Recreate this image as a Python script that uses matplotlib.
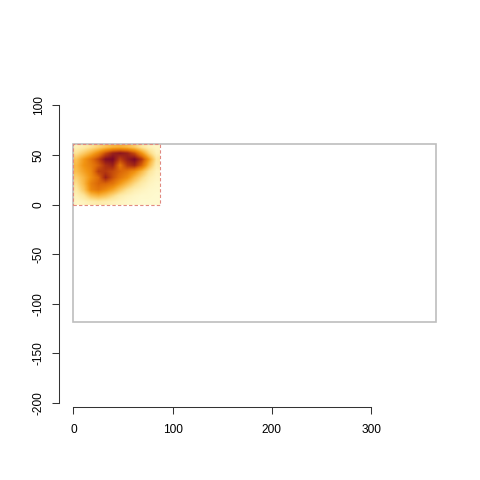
import numpy as np
import matplotlib.pyplot as plt
from matplotlib.colors import LinearSegmentedColormap
from matplotlib.patches import Rectangle

# density grid (rows top -> bottom, y 61 -> 0)
density = [
    [0.08, 0.12, 0.18, 0.25, 0.32, 0.38, 0.40, 0.36, 0.28, 0.16, 0.08, 0.04],
    [0.18, 0.28, 0.40, 0.55, 0.75, 0.90, 0.95, 0.90, 0.75, 0.50, 0.24, 0.08],
    [0.32, 0.48, 0.62, 0.78, 0.97, 1.00, 0.80, 0.92, 1.00, 0.82, 0.48, 0.16],
    [0.36, 0.50, 0.58, 0.70, 0.85, 0.90, 0.62, 0.82, 0.88, 0.68, 0.36, 0.12],
    [0.34, 0.45, 0.55, 0.80, 0.82, 0.76, 0.68, 0.62, 0.52, 0.36, 0.18, 0.07],
    [0.26, 0.38, 0.52, 0.66, 0.90, 0.74, 0.62, 0.52, 0.36, 0.22, 0.10, 0.05],
    [0.20, 0.36, 0.58, 0.68, 0.68, 0.62, 0.48, 0.35, 0.22, 0.12, 0.06, 0.03],
    [0.14, 0.30, 0.55, 0.62, 0.54, 0.44, 0.30, 0.18, 0.10, 0.06, 0.03, 0.02],
    [0.08, 0.16, 0.32, 0.38, 0.32, 0.22, 0.12, 0.07, 0.04, 0.02, 0.02, 0.01],
    [0.04, 0.06, 0.10, 0.12, 0.10, 0.07, 0.05, 0.03, 0.02, 0.01, 0.01, 0.01],
]
img_extent = [0, 87, 0, 61]       # image bounds in data units
frame_x = [0, 365]                # grey frame
frame_y = [-118, 61]
xticks = [0, 100, 200, 300]
yticks = [-200, -150, -100, -50, 0, 50, 100]

cmap = LinearSegmentedColormap.from_list(
    "heat", ["#FFFBD2", "#FDE59A", "#FBBF50", "#F29512", "#DD6A08", "#B2350F", "#7A0828"])

plt.rcParams['font.family'] = ['Liberation Sans', 'DejaVu Sans']
fig = plt.figure(figsize=(4.8, 4.8), dpi=100)
ax = fig.add_axes([59/480, 1 - 406.6/480, 391/480, 347.6/480])

ax.imshow(np.array(density), extent=img_extent, cmap=cmap, vmin=0, vmax=1,
          interpolation='bilinear', aspect='auto', zorder=1)
ax.add_patch(Rectangle((img_extent[0], img_extent[2]), img_extent[1] - img_extent[0],
                       img_extent[3] - img_extent[2], fill=False, ec='#E08A80',
                       lw=0.8, ls=(0, (3, 2)), zorder=3))
ax.add_patch(Rectangle((frame_x[0], frame_y[0]), frame_x[1] - frame_x[0],
                       frame_y[1] - frame_y[0], fill=False, ec='#BEBEBE', lw=1.2, zorder=2))

ax.set_xlim(-14.6, 379.6)
ax.set_ylim(-203.7, 146.7)

for s in ['top', 'right']:
    ax.spines[s].set_visible(False)
ax.spines['bottom'].set_bounds(0, 300)
ax.spines['left'].set_bounds(-200, 100)
for s in ['bottom', 'left']:
    ax.spines[s].set_linewidth(0.75)
    ax.spines[s].set_color('#333333')

ax.set_xticks(xticks)
ax.set_yticks(yticks)
ax.set_yticklabels([str(v) for v in yticks], rotation=90, va='center')
ax.tick_params(axis='both', length=5.2, width=0.75, color='#333333', labelsize=8.6)
ax.tick_params(axis='x', pad=7)
ax.tick_params(axis='y', pad=5)

fig.savefig('out.png', dpi=100)
